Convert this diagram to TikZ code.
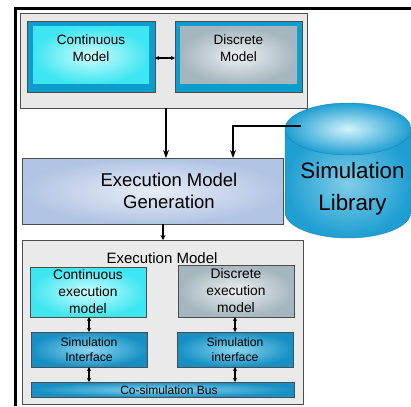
\documentclass[tikz,border=0pt]{standalone}
\usepackage{fontspec}
\setmainfont{Liberation Sans}
\usetikzlibrary{arrows.meta,calc}
\definecolor{panelgray}{HTML}{E8E8E8}
\definecolor{edgegray}{HTML}{4D4D4D}
\definecolor{frameblue}{HTML}{0E9CCC}
\definecolor{cyanout}{HTML}{3EE6F2}
\definecolor{cyanin}{HTML}{CFFDFD}
\definecolor{grayout}{HTML}{A4B6BE}
\definecolor{grayin}{HTML}{EEF2F3}
\definecolor{lavout}{HTML}{B2C4E4}
\definecolor{lavin}{HTML}{E8EDF7}
\definecolor{ifout}{HTML}{1690C4}
\definecolor{ifin}{HTML}{8AD6F0}
\definecolor{cylblue}{HTML}{1E9ED2}
\definecolor{cyllight}{HTML}{D2F4FB}
\begin{document}
\begin{tikzpicture}[x=1pt,y=-1pt,
  box/.style={rectangle,inner sep=0pt,outer sep=0pt},
  panel/.style={box,draw=edgegray,line width=0.8pt,fill=panelgray},
  mframe/.style={box,draw=edgegray,line width=0.5pt,fill=frameblue},
  cyanbox/.style={box,inner color=cyanin,outer color=cyanout},
  graybox/.style={box,inner color=grayin,outer color=grayout},
  ifbox/.style={box,draw=edgegray,line width=0.6pt,inner color=ifin,outer color=ifout},
  txt/.style={align=center,inner sep=0pt},
  mainarrow/.style={line width=1.8pt,-{Stealth[length=8pt,width=6pt]}},
  biarrow/.style={line width=1.3pt,{Stealth[length=4pt,width=4pt]}-{Stealth[length=4pt,width=4pt]}}
]
\useasboundingbox (0,0) rectangle (411,406);
\fill[white] (0,0) rectangle (411,406);

% outer frame lines
\draw[line width=3pt] (15,406) -- (15,9) -- (411,9);

% model panel
\node[panel,minimum width=287pt,minimum height=95pt] (toppanel) at (163.5,60.5) {};
\node[mframe,minimum width=128pt,minimum height=71pt] (cmframe) at (91,56.5) {};
\node[cyanbox,minimum width=116pt,minimum height=57pt] (cm) at (91,55.5) {};
\node[txt,font=\fontsize{13.5}{17}\selectfont] (cmtext) at (91,48.5) {Continuous\\Model};
\node[mframe,minimum width=127pt,minimum height=71pt] (dmframe) at (238.5,56.5) {};
\node[graybox,minimum width=117pt,minimum height=57pt] (dm) at (238.5,55.5) {};
\node[txt,font=\fontsize{13.5}{17}\selectfont] (dmtext) at (238.5,48.5) {Discrete\\Model};
\draw[biarrow] (cmframe.east) ++(0,1.5) coordinate (ba) -- (ba -| dmframe.west);

% execution model generation
\node[box,draw=edgegray,line width=0.8pt,inner color=lavin,outer color=lavout,
      minimum width=261pt,minimum height=66pt] (emg) at (152.5,191) {};
\node[txt,font=\fontsize{18.5}{22}\selectfont] (emgtext) at (169,191) {Execution Model\\Generation};

% simulation library cylinder
\path[inner color=cylblue!45!cyllight,outer color=cylblue,draw=cylblue!85!black,line width=0.4pt]
  (285,129) -- (285,212) arc[start angle=180,end angle=0,x radius=63,y radius=26] -- (411,129) -- cycle;
\path[inner color=cyllight,outer color=cylblue,draw=cylblue!85!black,line width=0.4pt]
  (348,129) ellipse [x radius=63,y radius=26];
\node[txt,font=\fontsize{22.3}{32}\selectfont] (lib) at (352.5,189) {Simulation\\Library};
\coordinate (libport) at (301,126);

% connectors into the generator
\draw[mainarrow] (toppanel.south) ++(2.5,0) coordinate (tp) -- (tp |- emg.north);
\draw[mainarrow] (libport) -- (233,126) coordinate (lc) -- (lc |- emg.north);

% execution model
\node[box,draw=edgegray,line width=0.8pt,fill=panelgray!90!white,
      minimum width=281pt,minimum height=164pt] (exec) at (162.5,322) {};
\draw[line width=1.3pt,-{Stealth[length=5pt,width=5pt]}] (emg.south) ++(10.5,0) coordinate (es) -- (es |- exec.north);
\node[txt,font=\fontsize{15}{18}\selectfont] (exectitle) at (162,258) {Execution Model};

\node[box,draw=edgegray,line width=0.6pt,inner color=cyanin,outer color=cyanout,
      minimum width=116pt,minimum height=50pt,txt,font=\fontsize{13.8}{17}\selectfont] (ce) at (88,292)
      {Continuous\\execution\\model};
\node[box,draw=edgegray,line width=0.6pt,inner color=grayin,outer color=grayout,
      minimum width=116pt,minimum height=52pt,txt,font=\fontsize{13.8}{17}\selectfont] (de) at (236,291)
      {Discrete\\execution\\model};

\node[ifbox,minimum width=116pt,minimum height=35pt,txt,font=\fontsize{12.2}{15}\selectfont] (si1) at (89,349.5)
      {Simulation\\Interface};
\node[ifbox,minimum width=116pt,minimum height=35pt,txt,font=\fontsize{12.2}{15}\selectfont] (si2) at (235,349.5)
      {Simulation\\interface};

\node[ifbox,minimum width=263pt,minimum height=15pt] (bus) at (162.5,389.5) {};
\node[txt,font=\fontsize{12}{14}\selectfont] (bustext) at (169,390) {Co-simulation Bus};

\draw[biarrow] (si1.north) -- (si1.north |- ce.south);
\draw[biarrow] (si2.north) -- (si2.north |- de.south);
\draw[biarrow] (si1.south) -- (si1.south |- bus.north);
\draw[biarrow] (si2.south) -- (si2.south |- bus.north);
\end{tikzpicture}
\end{document}
